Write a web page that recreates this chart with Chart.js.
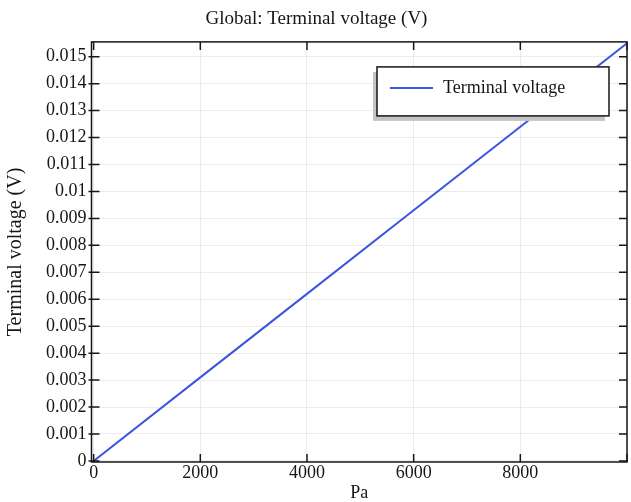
<!DOCTYPE html>
<html>
<head>
<meta charset="utf-8">
<script src="https://cdn.jsdelivr.net/npm/chart.js@4.4.1/dist/chart.umd.min.js"></script>
<style>
  html, body { margin: 0; padding: 0; background: #fff; }
  #wrap { width: 631px; height: 502px; }
</style>
</head>
<body>
<div id="wrap"><canvas id="chart"></canvas></div>
<script>
var pressure = [0, 2000, 4000, 6000, 8000, 10000];
var voltage = [0, 0.0031, 0.0062, 0.0093, 0.0124, 0.0155];
var seriesLabel = 'Terminal voltage';
var xTicks = [0, 2000, 4000, 6000, 8000, 10000];
var xLabelMax = 8000;

var serif = 'Liberation Serif, Times New Roman, serif';
var ink = '#161616';
var blue = '#3a55e0';

// box frame, inward tick marks and the boxed legend with its shadow
var framePlugin = {
  id: 'frame',
  afterDatasetsDraw: function(chart) {
    var ctx = chart.ctx;
    var a = chart.chartArea;
    var sx = chart.scales.x, sy = chart.scales.y;
    ctx.save();
    ctx.strokeStyle = ink;
    ctx.lineWidth = 1.5;
    ctx.beginPath();
    sx.ticks.forEach(function(t) {
      var px = sx.getPixelForValue(t.value);
      ctx.moveTo(px, a.bottom); ctx.lineTo(px, a.bottom - 8);
      ctx.moveTo(px, a.top); ctx.lineTo(px, a.top + 8);
    });
    sy.ticks.forEach(function(t) {
      var py = sy.getPixelForValue(t.value);
      ctx.moveTo(a.left - 3, py); ctx.lineTo(a.left + 8, py);
      ctx.moveTo(a.right - 8, py); ctx.lineTo(a.right, py);
    });
    ctx.stroke();
    ctx.strokeRect(a.left, a.top, a.right - a.left, a.bottom - a.top);

    // legend
    var ds = chart.data.datasets[0];
    var lx = a.right - 250, ly = a.top + 25, lw = 232, lh = 49;
    ctx.fillStyle = '#c4c4c4';
    ctx.fillRect(lx - 4, ly + 5, lw, lh);
    ctx.fillStyle = '#fff';
    ctx.fillRect(lx, ly, lw, lh);
    ctx.strokeRect(lx, ly, lw, lh);
    ctx.strokeStyle = ds.borderColor;
    ctx.lineWidth = 2;
    ctx.beginPath();
    ctx.moveTo(lx + 13, ly + 21);
    ctx.lineTo(lx + 56, ly + 21);
    ctx.stroke();
    ctx.fillStyle = ink;
    ctx.font = '18px ' + serif;
    ctx.textBaseline = 'middle';
    ctx.fillText(ds.label, lx + 66, ly + 21);
    ctx.restore();
  }
};

var options = {
  type: 'line',
  data: {
    datasets: [
      {
        label: seriesLabel,
        data: pressure.map(function(p, i) {
          return { x: p, y: voltage[i] };
        }),
        borderColor: blue,
        borderWidth: 2,
        pointRadius: 0,
        tension: 0
      }
    ]
  },
  options: {
    responsive: true,
    maintainAspectRatio: false,
    animation: false,
    layout: { padding: { left: 6, right: 4, top: 7, bottom: 0 } },
    plugins: {
      legend: { display: false },
      tooltip: { enabled: false },
      title: {
        display: true,
        text: 'Global: Terminal voltage (V)',
        color: ink,
        font: { family: serif, size: 19, weight: 'normal', lineHeight: 1.1 },
        padding: { top: 2, bottom: 12 }
      }
    },
    scales: {
      x: {
        type: 'linear',
        min: -40,
        max: 10000,
        afterBuildTicks: function(scale) {
          scale.ticks = xTicks.map(function(v) { return { value: v }; });
        },
        title: {
          display: true,
          text: 'Pa',
          color: ink,
          font: { family: serif, size: 18, lineHeight: 1 },
          padding: 0
        },
        ticks: {
          autoSkip: false,
          maxRotation: 0,
          padding: 2,
          color: ink,
          font: { family: serif, size: 18, lineHeight: 1 },
          callback: function(v) {
            return v <= xLabelMax ? String(v) : '';
          }
        },
        grid: { color: '#ececec', drawTicks: false },
        border: { display: false }
      },
      y: {
        type: 'linear',
        min: -0.00004,
        max: 0.01555,
        title: {
          display: true,
          text: 'Terminal voltage (V)',
          color: ink,
          font: { family: serif, size: 20, lineHeight: 1 },
          padding: { top: 0, bottom: 15 }
        },
        ticks: {
          stepSize: 0.001,
          includeBounds: false,
          padding: 5,
          color: ink,
          font: { family: serif, size: 18, lineHeight: 1 },
          callback: function(v) {
            return String(Number(v.toFixed(3)));
          }
        },
        grid: { color: '#ececec', drawTicks: false },
        border: { display: false }
      }
    }
  },
  plugins: [framePlugin]
};

var chart = new Chart(document.getElementById('chart'), options);
</script>
</body>
</html>
